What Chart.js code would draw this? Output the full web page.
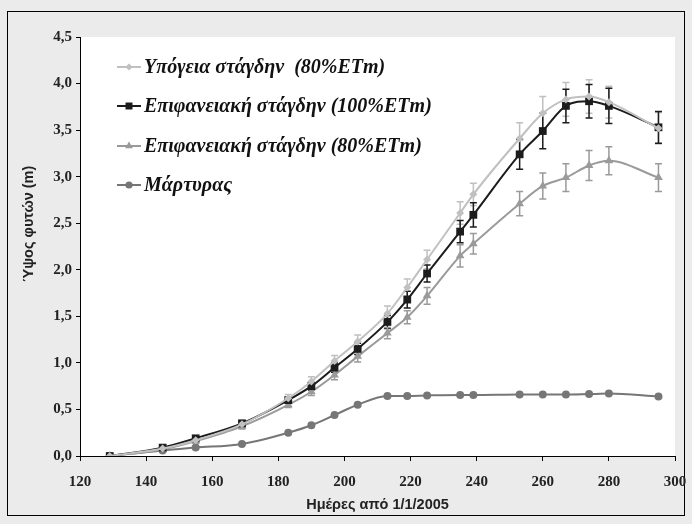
<!DOCTYPE html>
<html>
<head>
<meta charset="utf-8">
<script src="https://cdn.jsdelivr.net/npm/chart.js@4.4.1/dist/chart.umd.min.js"></script>
<style>
html,body{margin:0;padding:0;background:#ebebeb;overflow:hidden;}
canvas{display:block;}
</style>
</head>
<body>
<canvas id="c" width="692" height="524"></canvas>
<script>
const days = [129,145,155,169,183,190,197,204,213,219,225,235,239,253,260,267,274,280,295];
const subDrip80 = [0,0.08,0.17,0.34,0.62,0.80,1.02,1.23,1.53,1.81,2.11,2.61,2.81,3.41,3.68,3.83,3.86,3.80,3.52];
const subDrip80Err = [0,0.02,0.03,0.03,0.04,0.05,0.06,0.07,0.08,0.09,0.10,0.12,0.12,0.17,0.18,0.18,0.18,0.17,0.17];
const surfDrip100 = [0,0.09,0.19,0.35,0.60,0.75,0.95,1.15,1.44,1.68,1.96,2.41,2.59,3.24,3.49,3.76,3.81,3.76,3.53];
const surfDrip100Err = [0,0.02,0.02,0.03,0.03,0.04,0.05,0.06,0.07,0.09,0.09,0.12,0.13,0.16,0.19,0.18,0.18,0.19,0.17];
const surfDrip80 = [0,0.07,0.16,0.32,0.55,0.69,0.87,1.07,1.32,1.49,1.72,2.15,2.28,2.71,2.90,2.99,3.12,3.17,2.99];
const surfDrip80Err = [0,0.02,0.02,0.03,0.03,0.04,0.05,0.06,0.06,0.07,0.09,0.12,0.11,0.13,0.14,0.15,0.16,0.15,0.15];
const control = [0,0.06,0.09,0.13,0.25,0.33,0.44,0.55,0.645,0.645,0.65,0.655,0.655,0.66,0.66,0.66,0.665,0.67,0.64];
const seriesLabels = ['Υπόγεια στάγδην  (80%ETm)','Επιφανειακή στάγδην (100%ETm)','Επιφανειακή στάγδην (80%ETm)','Μάρτυρας'];
const xTicks = [120,140,160,180,200,220,240,260,280,300];
const yTicks = [0,0.5,1,1.5,2,2.5,3,3.5,4,4.5];

function pts(vals){ return days.map((d,i)=>({x:d,y:vals[i]})); }

const ds = [
  {label:seriesLabels[0], data:pts(subDrip80), err:subDrip80Err, borderColor:'#c0c0c0', backgroundColor:'#c0c0c0', pointStyle:'rectRot', pointRadius:4},
  {label:seriesLabels[1], data:pts(surfDrip100), err:surfDrip100Err, borderColor:'#1c1c1c', backgroundColor:'#1c1c1c', pointStyle:'rect', pointRadius:5.5},
  {label:seriesLabels[2], data:pts(surfDrip80), err:surfDrip80Err, borderColor:'#9a9a9a', backgroundColor:'#9a9a9a', pointStyle:'triangle', pointRadius:5},
  {label:seriesLabels[3], data:pts(control), err:null, borderColor:'#767676', backgroundColor:'#767676', pointStyle:'circle', pointRadius:4}
].map(d=>Object.assign(d,{borderWidth:2, pointBorderWidth:0, pointHoverRadius:d.pointRadius, cubicInterpolationMode:'monotone', fill:false}));

const framePlugin = {
  id:'frame',
  beforeDraw(chart){
    const ctx = chart.ctx, a = chart.chartArea;
    ctx.save();
    ctx.fillStyle = '#ebebeb';
    ctx.fillRect(0,0,chart.width,chart.height);
    ctx.strokeStyle = '#000';
    ctx.lineWidth = 1;
    ctx.strokeRect(7.5,11.5,677,504);
    ctx.fillStyle = '#fff';
    ctx.fillRect(a.left,a.top,a.right-a.left,a.bottom-a.top);
    ctx.restore();
  }
};

const errPlugin = {
  id:'errbars',
  beforeDatasetsDraw(chart){
    const ctx = chart.ctx, xs = chart.scales.x, ys = chart.scales.y;
    ctx.save();
    chart.data.datasets.forEach(d=>{
      if(!d.err) return;
      ctx.strokeStyle = d.borderColor;
      ctx.lineWidth = 1.5;
      d.data.forEach((p,i)=>{
        const e = d.err[i];
        if(!e) return;
        const x = xs.getPixelForValue(p.x);
        const y1 = ys.getPixelForValue(p.y+e), y2 = ys.getPixelForValue(p.y-e);
        ctx.beginPath();
        ctx.moveTo(x,y1); ctx.lineTo(x,y2);
        ctx.moveTo(x-3.5,y1); ctx.lineTo(x+3.5,y1);
        ctx.moveTo(x-3.5,y2); ctx.lineTo(x+3.5,y2);
        ctx.stroke();
      });
    });
    ctx.restore();
  }
};

const legendPlugin = {
  id:'customLegend',
  afterDraw(chart){
    const ctx = chart.ctx;
    ctx.save();
    const rows = [67,106,146,185];
    chart.data.datasets.forEach((d,i)=>{
      const y = rows[i];
      ctx.strokeStyle = d.borderColor;
      ctx.lineWidth = 2;
      ctx.beginPath(); ctx.moveTo(117,y); ctx.lineTo(141,y); ctx.stroke();
      ctx.fillStyle = d.backgroundColor;
      Chart.helpers.drawPoint(ctx,{pointStyle:d.pointStyle, radius:d.pointRadius*0.9, borderWidth:0, rotation:0},129,y);
      ctx.fillStyle = '#111';
      ctx.font = 'italic bold 20px "Liberation Serif", "Times New Roman", serif';
      ctx.textBaseline = 'middle';
      ctx.textAlign = 'left';
      ctx.fillText(d.label,144,y+1);
    });
    ctx.translate(29,224);
    ctx.rotate(-Math.PI/2);
    ctx.font = 'bold 14.5px "Liberation Sans", Arial, sans-serif';
    ctx.fillStyle = '#222';
    ctx.textAlign = 'center';
    ctx.textBaseline = 'middle';
    ctx.fillText('Ύψος φυτών (m)',0,0);
    ctx.restore();
  }
};

new Chart(document.getElementById('c'),{
  type:'line',
  data:{datasets:ds},
  options:{
    responsive:false,
    animation:false,
    events:[],
    layout:{padding:{top:37,right:17,left:0,bottom:0}},
    plugins:{legend:{display:false},tooltip:{enabled:false}},
    scales:{
      x:{
        type:'linear', min:120, max:300,
        afterBuildTicks(s){ s.ticks = xTicks.map(v=>({value:v})); },
        afterFit(s){ s.height = 68; s.paddingRight = 0; s.paddingLeft = 0; },
        grid:{display:true, drawOnChartArea:false, drawTicks:true, tickLength:5, color:'#000', lineWidth:1},
        border:{display:true, color:'#000', width:1},
        ticks:{color:'#222', padding:12, maxRotation:0, font:{family:'"Liberation Serif", "Times New Roman", serif', weight:'bold', size:15}},
        title:{display:true, text:'Ημέρες από 1/1/2005', color:'#222', padding:{top:0,bottom:10}, font:{family:'"Liberation Sans", Arial, sans-serif', weight:'bold', size:14.5}}
      },
      y:{
        type:'linear', min:0, max:4.5,
        afterBuildTicks(s){ s.ticks = yTicks.map(v=>({value:v})); },
        afterFit(s){ s.width = 80; s.paddingTop = 0; s.paddingBottom = 0; },
        grid:{display:true, drawOnChartArea:false, drawTicks:true, tickLength:4, color:'#000', lineWidth:1},
        border:{display:true, color:'#000', width:1},
        ticks:{color:'#222', padding:4, callback:v=>v.toFixed(1).replace('.',','), font:{family:'"Liberation Serif", "Times New Roman", serif', weight:'bold', size:15}}
      }
    }
  },
  plugins:[framePlugin, errPlugin, legendPlugin]
});
</script>
</body>
</html>
